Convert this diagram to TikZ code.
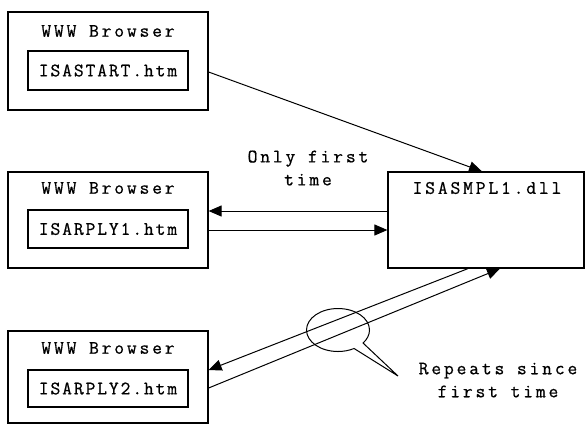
\documentclass[tikz,border=0pt]{standalone}
\usepackage{fontspec}
\newfontfamily\monoA[LetterSpace=15,FakeBold=0.7]{Latin Modern Mono}
\newfontfamily\monoB[LetterSpace=10,FakeBold=0.7]{Latin Modern Mono}
\usetikzlibrary{arrows.meta,calc,shapes.callouts}

\begin{document}
\begin{tikzpicture}[x=1pt,y=-1pt,
  outer/.style={draw,line width=1.2pt,inner sep=0pt,minimum width=200pt},
  inner/.style={draw,line width=1.2pt,inner sep=0pt,minimum width=160pt},
  lbl/.style={font=\monoA\fontsize{19}{23}\selectfont,inner sep=0pt,align=center},
  fname/.style={font=\monoB\fontsize{19}{23}\selectfont,inner sep=0pt},
  link/.style={line width=1pt},
  arr/.style={link,-{Triangle[length=13pt,width=11pt]}}]
\useasboundingbox (0,0) rectangle (585,424);

% three browser windows, each with its page
\node[outer,minimum height=98pt] (b1) at (108,61) {};
\node[lbl] (t1) at (108,31) {WWW Browser};
\node[inner,minimum height=39pt] (i1) at (108,70.5) {};
\node[fname] (f1) at (i1) {ISASTART.htm};

\node[outer,minimum height=96pt] (b2) at (108,220) {};
\node[lbl] (t2) at (108,188) {WWW Browser};
\node[inner,minimum height=38pt] (i2) at (108,229) {};
\node[fname] (f2) at (i2) {ISARPLY1.htm};

\node[outer,minimum height=92pt] (b3) at (108,377) {};
\node[lbl] (t3) at (108,348) {WWW Browser};
\node[inner,minimum height=37pt] (i3) at (108,388.5) {};
\node[fname] (f3) at (i3) {ISARPLY2.htm};

% the ISAPI extension
\node[draw,line width=1.2pt,inner sep=0pt,minimum width=196pt,minimum height=96pt] (dll) at (486,220) {};
\node[lbl] (dt) at (487,188) {ISASMPL1.dll};

% first request
\draw[arr] ($(b1.east)+(0,11)$) -- ($(dll.north)+(-4,0)$);

% first reply and its request
\draw[arr] ($(dll.west)+(0,-9)$) -- ($(b2.east)+(0,-9)$);
\draw[arr] ($(b2.east)+(0,10)$) -- ($(dll.west)+(0,10)$);
\node[lbl] (once) at (308,168) {Only first\\time};

% later replies and requests
\draw[arr] ($(dll.south)+(-18,0)$) -- ($(b3.east)+(0,-7)$);
\draw[arr] ($(b3.east)+(0,11)$) -- ($(dll.south)+(14,0)$);

% callout marking the repeated exchange
\node[ellipse callout,draw,line width=1pt,minimum width=63pt,minimum height=43pt,
      callout absolute pointer={(398,376)},callout pointer arc=22] (note) at (338,330) {};
\node[lbl] (rep) at (498,380) {Repeats since\\first time};
\end{tikzpicture}
\end{document}
